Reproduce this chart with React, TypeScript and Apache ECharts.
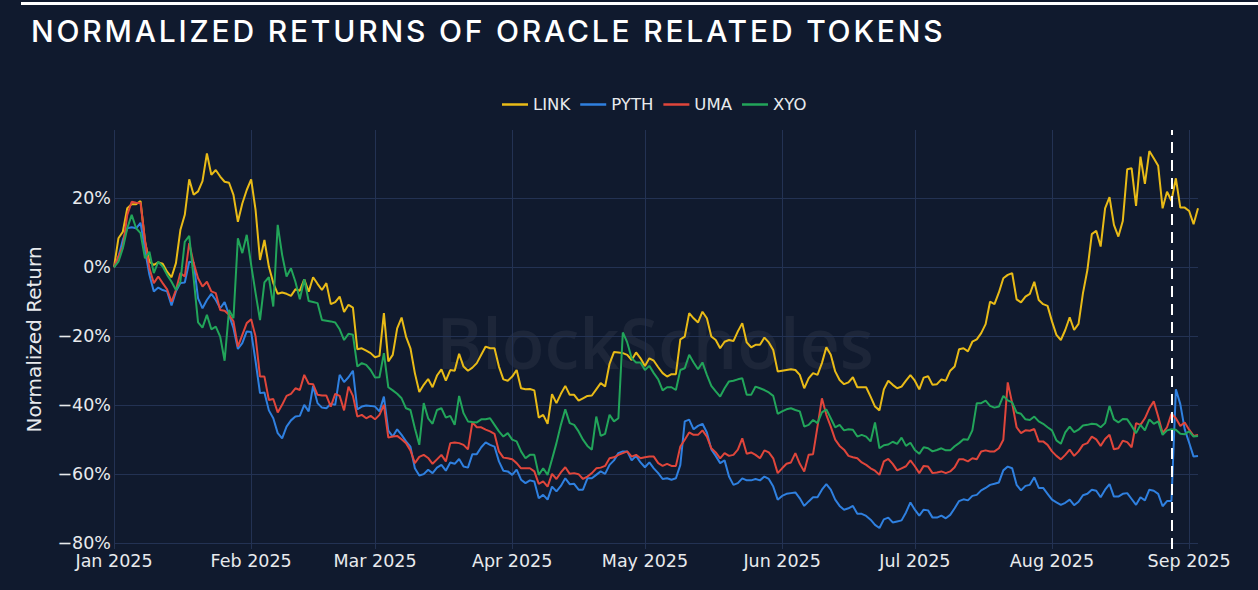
import { useEffect, useRef } from 'react';
import * as echarts from 'echarts';

// one point per day, 1 Jan 2025 .. 3 Sep 2025
function buildDates(count: number): string[] {
  const out: string[] = [];
  for (let i = 0; i < count; i++) {
    const d = new Date(Date.UTC(2025, 0, 1 + i));
    out.push(d.toISOString().slice(0, 10));
  }
  return out;
}

const dates = buildDates(246);
const seriesNames = ['LINK', 'PYTH', 'UMA', 'XYO'];
const seriesColors = ['#e9bb17', '#2f80e0', '#e0463b', '#22a55a'];
const monthNames = ['Jan', 'Feb', 'Mar', 'Apr', 'May', 'Jun', 'Jul', 'Aug', 'Sep', 'Oct', 'Nov', 'Dec'];
const markerDate = '2025-08-28';

const linkReturns = [
  0, 8.4, 10.3, 17.1, 18.3, 18.3, 19.2, 7.5, 1.6, 0.7,
  1.4, 1.0, -1.3, -2.9, 1.2, 10.8, 15.2, 25.5, 21, 22,
  25, 33, 26.8, 28.2, 26.3, 24.8, 24.5, 21, 13.2, 18.5,
  22.4, 25.5, 16.6, 2.1, 7.9, 0.2, -4.6, -7.7, -7.3, -7.7,
  -8.3, -6.4, -6.8, -3.5, -7.1, -2.9, -4.8, -6.6, -4.6, -10.7,
  -10.1, -8.5, -13, -10.9, -11.7, -23.8, -23.5, -24.2, -24.9, -26.1,
  -25.7, -13.3, -27.3, -25.4, -17.7, -14.6, -20.1, -23.5, -30.7, -36.2,
  -34.1, -32.4, -34.8, -31.4, -29.6, -32.9, -29.8, -30, -25.1, -28.8,
  -30, -29.1, -27.8, -25.4, -23, -23.5, -23.5, -28.8, -32.5, -32.9,
  -31.7, -29.8, -35.1, -35.4, -35.3, -35.7, -43.6, -42.8, -45.4, -36.8,
  -39.4, -36.7, -34.4, -37, -37, -38.7, -38, -37.3, -37.2, -35.4,
  -33.6, -34.6, -28, -24.6, -24.7, -24.9, -25.4, -26.9, -24.7, -26.4,
  -28.6, -26.4, -27.1, -29, -30.7, -31.7, -31, -31, -20.9, -20.1,
  -13.3, -14.8, -16, -12.9, -14.8, -20.1, -21.1, -23.5, -21.6, -21.1,
  -21.4, -18.6, -16.2, -21.8, -23.2, -22.5, -22.5, -20.4, -21.8, -24,
  -30.2, -30, -29.8, -29.6, -29.8, -31.2, -35.1, -32.2, -30.7, -31.2,
  -27.8, -23.2, -25.4, -30.2, -32.7, -33.9, -33.4, -31.9, -34.8, -34.8,
  -34.8, -37.5, -40.4, -41.5, -35.4, -32.9, -34.1, -35.1, -34.6, -32.9,
  -31.3, -32.9, -35.4, -32, -31.6, -34.1, -33.9, -32.5, -32.9, -30,
  -28.8, -23.8, -23.5, -24.4, -21.6, -20.9, -19.1, -16.5, -10, -10.7,
  -7.3, -3.2, -2.2, -1.7, -9.3, -10.2, -8.5, -7.7, -4.2, -9.5,
  -10.7, -11.2, -15.7, -19.6, -21.1, -18.2, -14.5, -18.2, -16.4, -7.5,
  -0.8, 9.6, 10.6, 6, 17.1, 20.3, 12.3, 8.9, 13.4, 28.4,
  28.7, 17.8, 32.1, 24.2, 33.7, 31.6, 29.4, 17.1, 21.9, 19.3,
  25.8, 17.3, 17.3, 16.3, 12.5, 17.1,
];

const pythReturns = [
  0, 3, 8, 11.3, 11.6, 11.3, 12.9, 5, -2.2, -7,
  -5.9, -6.6, -7, -11.1, -7, -4.6, -4.4, 1.6, 1.4, -9,
  -11.9, -9.5, -7.7, -9.5, -11.9, -10.1, -13.8, -17.7, -23.7, -22,
  -18.6, -18.8, -27.3, -36.5, -36.3, -41.5, -43.8, -48.1, -49.6, -46.2,
  -44.4, -43.3, -43.1, -39.9, -41.8, -34.4, -39.4, -40.7, -40.9, -39.6,
  -39.9, -31.2, -33.3, -31.9, -30, -41.2, -40.4, -40.1, -40.2, -40.4,
  -41.8, -37.5, -47.4, -49.1, -47, -48.6, -50.5, -52, -58.3, -60.4,
  -60, -58.7, -59.7, -58.1, -57.3, -59, -56.6, -57, -55.6, -57.8,
  -58.1, -54.2, -54.2, -52.2, -50.8, -51.5, -52, -56.3, -59, -59.2,
  -60.2, -58.7, -61.6, -62.6, -61.8, -62.1, -67, -66, -67.4, -63.6,
  -65, -63.4, -61.2, -62.9, -62.8, -64.5, -64.5, -61.2, -61.2, -60.2,
  -59.2, -59.9, -57.3, -56, -53.9, -53.4, -53.4, -56, -54.7, -56.6,
  -58, -56.6, -58.3, -59.7, -61.4, -61.2, -61.6, -61.2, -57.3, -44.7,
  -44.2, -47, -46, -45.4, -47.9, -52.8, -54.7, -56.8, -56, -60.7,
  -63.1, -62.6, -61.2, -61.8, -61.8, -61.4, -61.8, -60.7, -61.4, -63.6,
  -67.4, -66.3, -65.7, -65.5, -65.3, -67, -69.2, -67.9, -66.7, -66.7,
  -64.5, -62.9, -64.5, -67.4, -69.2, -70.3, -69.9, -69.2, -71.5, -71.5,
  -72.1, -73.2, -74.7, -75.6, -73.1, -72.6, -74, -73.7, -73.4, -71.1,
  -68.2, -70.3, -72, -70.3, -70.5, -72.6, -72.6, -72, -72.8, -71.8,
  -69.9, -67.8, -67.3, -67.6, -66.3, -66, -64.7, -64, -63.1, -62.8,
  -62.4, -58.9, -57.8, -58.3, -63.1, -64.7, -63.4, -63.1, -60.9, -64,
  -64, -65.7, -67.4, -68.2, -68.9, -68.3, -67.4, -69, -68, -66.1,
  -65.7, -64.5, -64.8, -66.7, -64.5, -62.9, -66.5, -66.5, -65.7, -65.5,
  -67.2, -68.9, -66.7, -67.6, -64.5, -64.8, -65.7, -69.3, -67.8, -67.8,
  -35.4, -39.7, -47, -50.9, -54.9, -54.7,
];

const umaReturns = [
  0, 3.1, 6, 15.2, 19, 18.7, 18.6, 7.9, -0.3, -4.6,
  -2.7, -4.6, -6.4, -10, -6.6, -1.7, -2.7, 7, 1.2, -3.2,
  -5.6, -4.2, -7, -7.5, -12.4, -12.6, -13.8, -15.7, -23, -19.6,
  -16.2, -15.1, -20.1, -31.7, -31.7, -38.5, -38.2, -42.1, -39.9, -37.3,
  -36.7, -35.1, -35.6, -31.2, -33.8, -33.9, -37, -37.2, -37.2, -40.4,
  -36.7, -37.3, -41.5, -34.6, -37.3, -43.3, -42.8, -43.8, -43.1, -44.1,
  -42.8, -39.9, -49.4, -49.1, -48.9, -49.9, -51, -53.1, -56.8, -55,
  -54.4, -55.3, -57, -55.7, -54.4, -56.3, -51, -50.8, -51, -51.5,
  -52.8, -45, -46.4, -46.4, -47.1, -47.6, -48.3, -53.4, -55.2, -55.4,
  -55.7, -56.8, -58.3, -58.3, -58.3, -59.2, -62.8, -62.1, -63.6, -59.9,
  -61.4, -59.5, -58, -59.9, -59.7, -60, -61.4, -60.7, -59.7, -58.3,
  -58.1, -57.6, -55.4, -55.1, -54.4, -53.9, -53.4, -54.9, -54.4, -55.4,
  -55.1, -54.9, -54.9, -56.8, -57.6, -57, -57.6, -57.6, -52, -50,
  -47.9, -48.6, -48.6, -47.3, -49.1, -52.5, -53.7, -55.4, -53.9, -54.7,
  -54.4, -52.9, -49.6, -54.1, -53.7, -54.4, -55.4, -53.1, -53.7, -55.4,
  -59.7, -58.3, -57, -56.6, -53.9, -57, -59.2, -54.4, -54.2, -46.2,
  -38, -42.8, -46.2, -50, -51.8, -52.9, -54.7, -55.1, -55.4, -56.6,
  -57.3, -58.3, -59, -60.2, -56.3, -55.6, -57, -58.9, -58.3, -57.7,
  -56, -57.7, -59.7, -57.6, -57.8, -59.7, -59.5, -59.2, -59.7, -59.2,
  -58, -55.7, -55.7, -56.3, -55.4, -55.7, -53.4, -53.1, -53.4, -53.4,
  -52.5, -50, -33.4, -39.4, -46.4, -48.1, -47.3, -47.4, -46.9, -50.5,
  -50.5, -51.5, -53.4, -54.7, -55.7, -54.4, -52.9, -54.7, -53.4, -51.5,
  -51, -49.1, -49.9, -51.8, -49.8, -48.6, -52.8, -52.5, -50.3, -50.7,
  -52.2, -45.2, -45.7, -43.8, -40.9, -38.9, -43.3, -48.1, -46.4, -42.5,
  -43.8, -46, -45, -47.1, -48.9, -48.6,
];

const xyoReturns = [
  0, 1.6, 5.5, 11.3, 15.2, 11.3, 9.9, 2.6, 4.5, -1.7,
  1.6, 0.2, -2.2, -4.2, -6.6, -4.2, 7.4, 9.1, -3.2, -16,
  -17.5, -13.8, -18, -17.2, -20.1, -27.1, -12.4, -14.8, 8.4, 4.1,
  9.4, 0.7, -7.5, -15.3, -4.4, -2.9, -11.4, 12.3, 3.6, -2.7,
  -0.3, -4.2, -9.3, -3.5, -9.8, -10.1, -10.4, -15.3, -15.5, -15.7,
  -16, -18, -21.1, -19.3, -19.6, -28.8, -27.8, -28.3, -29.8, -32,
  -31.9, -24.9, -34.8, -35.7, -36.7, -38, -40.9, -41.4, -46.7, -51.5,
  -39.4, -43.8, -45.4, -41.4, -40.9, -43.6, -43.1, -45.7, -37.3, -42.3,
  -44.7, -44.9, -45, -44.1, -44.1, -43.8, -45.7, -47.6, -49.1, -48.1,
  -50, -50.5, -53.4, -55.4, -54.4, -54.4, -60.2, -58.3, -60.2, -55.7,
  -51, -45.7, -41.2, -45.2, -45.7, -47.6, -50, -51.8, -52.9, -43.3,
  -48.9, -48.3, -42.8, -44.7, -43.8, -18.9, -21.8, -26.4, -27.6, -27.6,
  -29.8, -28.6, -30.7, -32.5, -35.7, -34.8, -34.8, -35.6, -29.8, -29.3,
  -25.4, -27.6, -29.6, -27.6, -31.2, -34.4, -36, -37.5, -35.1, -33.1,
  -32.9, -32.5, -32.2, -37, -37, -34.6, -35.1, -35.6, -36.3, -37.3,
  -42.5, -41.8, -41.2, -40.9, -41.4, -41.8, -46.2, -45.7, -44.3, -45.2,
  -42.1, -41.2, -43.8, -46.4, -45.7, -47.3, -47, -47.1, -49.1, -48.6,
  -49.1, -50.5, -45, -52.5, -51.6, -51.4, -50.6, -51.2, -49.4, -51.8,
  -50.9, -53, -54.1, -52.2, -52.5, -53.4, -53, -52.5, -53.1, -53.1,
  -51.9, -51, -49.9, -50, -47.3, -39.4, -39.4, -38.7, -40.2, -40.7,
  -40.4, -37.3, -38.6, -39.2, -42.1, -42.5, -44.1, -44.3, -43.3, -44.7,
  -45.4, -46.4, -47.3, -50.2, -51.2, -47.9, -46.2, -47.8, -47.1, -45.9,
  -45.7, -45.4, -45.5, -46.4, -45.2, -40.2, -44.1, -45, -44, -44.1,
  -46, -48.1, -45.7, -47.3, -44.1, -45.4, -44.7, -48.6, -47.3, -47,
  -47.1, -48.3, -48.4, -47.6, -49.1, -48.9,
];

const seriesData = [linkReturns, pythReturns, umaReturns, xyoReturns];

const BG = '#101a2e';
const GRID = '#233253';
const TEXT = '#e8eaed';
const FONT = "'DejaVu Sans', sans-serif";

const isMonthStart = (_i: number, v: string) => v.endsWith('-01');
const monthLabel = (v: string) => `${monthNames[Number(v.slice(5, 7)) - 1]} ${v.slice(0, 4)}`;
const pctLabel = (v: number) => `${v < 0 ? '\u2212' : ''}${Math.abs(Math.round(v))}%`;

export default function App() {
  const chartRef = useRef<HTMLDivElement>(null);

  useEffect(() => {
    if (!chartRef.current) return;
    const chart = echarts.init(chartRef.current, undefined, { renderer: 'svg' });

    chart.setOption({
      animation: false,
      backgroundColor: 'transparent',
      textStyle: { fontFamily: FONT },
      color: seriesColors,
      legend: {
        left: 502,
        top: 96,
        padding: 0,
        icon: 'rect',
        itemWidth: 26,
        itemHeight: 2.5,
        itemGap: 10,
        data: seriesNames,
        textStyle: { color: TEXT, fontSize: 16.5, fontFamily: FONT },
      },
      grid: { left: 114, right: 60, top: 130, bottom: 41 },
      xAxis: {
        type: 'category',
        data: dates,
        boundaryGap: false,
        axisLine: { show: false },
        axisTick: { show: false },
        axisLabel: {
          interval: isMonthStart,
          formatter: monthLabel,
          color: TEXT,
          fontSize: 17.5,
          margin: 3,
        },
        splitLine: { show: true, interval: isMonthStart, lineStyle: { color: GRID, width: 1 } },
      },
      yAxis: {
        type: 'value',
        min: -81.7,
        max: 39.8,
        splitNumber: 6,
        name: 'Normalized Return',
        nameLocation: 'middle',
        nameGap: 70,
        nameTextStyle: { color: TEXT, fontSize: 20, fontFamily: FONT },
        axisLine: { show: false },
        axisTick: { show: false },
        axisLabel: {
          formatter: pctLabel,
          color: TEXT,
          fontSize: 17.5,
          margin: 3,
          showMinLabel: false,
          showMaxLabel: false,
        },
        splitLine: { lineStyle: { color: GRID, width: 1 }, showMinLine: false, showMaxLine: false },
      },
      graphic: [
        {
          type: 'text',
          x: 655,
          y: 342,
          z: 0,
          silent: true,
          style: {
            text: 'BlockScholes',
            fill: 'rgba(255,255,255,0.055)',
            fontSize: 70,
            fontFamily: "'Open Sans', sans-serif",
            fontWeight: 600,
            textAlign: 'center',
            textVerticalAlign: 'middle',
            align: 'center',
            verticalAlign: 'middle',
          },
        },
      ],
      series: seriesNames.map((name, i) => ({
        name,
        type: 'line',
        data: seriesData[i],
        symbol: 'none',
        showSymbol: false,
        lineStyle: { width: 2 },
        emphasis: { disabled: true },
        markLine:
          i === 0
            ? {
                silent: true,
                symbol: ['none', 'none'],
                label: { show: false },
                lineStyle: { color: '#ffffff', type: [11, 7], width: 2 },
                data: [{ xAxis: markerDate }],
              }
            : undefined,
      })),
    });

    return () => {
      chart.dispose();
    };
  }, []);

  return (
    <div
      style={{
        position: 'fixed',
        left: 0,
        top: 0,
        width: 1258,
        height: 590,
        background: BG,
        overflow: 'hidden',
      }}
    >
      <div style={{ position: 'absolute', left: 21, top: 2, width: 1237, height: 3, background: '#ffffff' }} />
      <div
        style={{
          position: 'absolute',
          left: 31,
          top: 16,
          color: '#ffffff',
          fontFamily: 'Inter, sans-serif',
          fontSize: 30,
          fontWeight: 500,
          lineHeight: '30px',
          letterSpacing: 2.8,
          whiteSpace: 'nowrap',
        }}
      >
        NORMALIZED RETURNS OF ORACLE RELATED TOKENS
      </div>
      <div ref={chartRef} style={{ position: 'absolute', left: 0, top: 0, width: 1258, height: 590 }} />
    </div>
  );
}
